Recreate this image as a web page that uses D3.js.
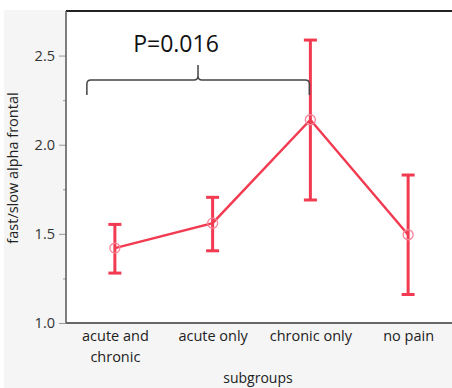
<!DOCTYPE html>
<html>
<head>
<meta charset="utf-8">
<script src="https://cdn.jsdelivr.net/npm/d3@7"></script>
<style>
  html, body { margin: 0; padding: 0; background: #ffffff; }
  svg { display: block; }
</style>
</head>
<body>
<svg id="chart" width="452" height="388"></svg>
<script>
// Subgroup means with error bar limits
const categories = ["acute and chronic", "acute only", "chronic only", "no pain"];
const categoryLines = [["acute and", "chronic"], ["acute only"], ["chronic only"], ["no pain"]];
const means = [1.42, 1.56, 2.14, 1.495];
const lower = [1.28, 1.405, 1.69, 1.16];
const upper = [1.553, 1.705, 2.587, 1.83];
const majorTicks = [1.0, 1.5, 2.0, 2.5];
const minorTicks = [1.25, 1.75, 2.25];
const pLabel = "P=0.016";

const W = 452, H = 388;
const plot = { left: 66, top: 11, right: 457, bottom: 323 };
const red = "#f23a50";
const font = "'Open Sans', 'Noto Sans', sans-serif";

const svg = d3.select("#chart");

// Grey frame behind the plot
svg.append("rect").attr("x", 4).attr("y", 10).attr("width", W - 4).attr("height", H - 10)
  .attr("fill", "#f5f5f5");
svg.append("rect").attr("x", plot.left).attr("y", plot.top)
  .attr("width", W - plot.left).attr("height", plot.bottom - plot.top).attr("fill", "#ffffff");

const y = d3.scaleLinear().domain([1.0, 2.75]).range([plot.bottom, plot.top]);
const x = d3.scalePoint().domain(categories).range([plot.left, plot.right]).padding(0.5);

// Y axis with major and minor ticks
const yAxis = svg.append("g").attr("transform", `translate(${plot.left},0)`)
  .call(d3.axisLeft(y).tickValues(majorTicks).tickFormat(d3.format(".1f")).tickSize(7).tickPadding(4));
yAxis.select(".domain").remove();
yAxis.selectAll(".tick line").attr("stroke", "#999");
yAxis.selectAll(".tick text").attr("font-family", font).attr("font-size", 14.5).attr("fill", "#333");
svg.append("g").attr("transform", `translate(${plot.left},0)`)
  .call(d3.axisLeft(y).tickValues(minorTicks).tickSize(3).tickFormat(""))
  .call(g => g.select(".domain").remove())
  .selectAll(".tick line").attr("stroke", "#999");

// X axis labels
const xAxis = svg.append("g").attr("transform", `translate(0,${plot.bottom})`)
  .call(d3.axisBottom(x).tickSize(0).tickFormat(""));
xAxis.select(".domain").remove();
xAxis.selectAll(".tick").each(function(d, i) {
  const t = d3.select(this).append("text")
    .attr("font-family", font).attr("font-size", 14.5).attr("fill", "#222")
    .attr("text-anchor", "middle");
  categoryLines[i].forEach((line, j) => {
    t.append("tspan").attr("x", 0).attr("y", 18 + j * 21).text(line);
  });
});

// Frame lines
svg.append("line").attr("x1", plot.left).attr("x2", W).attr("y1", plot.top).attr("y2", plot.top)
  .attr("stroke", "#222").attr("stroke-width", 2);
svg.append("line").attr("x1", plot.left).attr("x2", plot.left).attr("y1", plot.top).attr("y2", plot.bottom)
  .attr("stroke", "#555").attr("stroke-width", 1.5);
svg.append("line").attr("x1", plot.left).attr("x2", W).attr("y1", plot.bottom).attr("y2", plot.bottom)
  .attr("stroke", "#666").attr("stroke-width", 2);

// Axis titles
svg.append("text").attr("transform", `translate(18,${(plot.top + plot.bottom) / 2 + 1}) rotate(-90)`)
  .attr("text-anchor", "middle").attr("font-family", font).attr("font-size", 14.5).attr("fill", "#222")
  .text("fast/slow alpha frontal");
svg.append("text").attr("x", 258).attr("y", 383).attr("text-anchor", "middle")
  .attr("font-family", font).attr("font-size", 14).attr("fill", "#222").text("subgroups");

// Error bars
const capHalf = 6.5;
const bars = svg.append("g").attr("stroke", red).attr("stroke-width", 3).attr("fill", "none");
categories.forEach((c, i) => {
  const cx = x(c);
  bars.append("line").attr("x1", cx).attr("x2", cx).attr("y1", y(lower[i])).attr("y2", y(upper[i]));
  bars.append("line").attr("x1", cx - capHalf).attr("x2", cx + capHalf).attr("y1", y(lower[i])).attr("y2", y(lower[i]));
  bars.append("line").attr("x1", cx - capHalf).attr("x2", cx + capHalf).attr("y1", y(upper[i])).attr("y2", y(upper[i]));
});

// Mean line and markers
svg.append("path").datum(means)
  .attr("d", d3.line().x((d, i) => x(categories[i])).y(d => y(d)))
  .attr("fill", "none").attr("stroke", red).attr("stroke-width", 2.5);
svg.append("g").selectAll("circle").data(means).join("circle")
  .attr("cx", (d, i) => x(categories[i])).attr("cy", d => y(d)).attr("r", 5)
  .attr("fill", "none").attr("stroke", "#f7849a").attr("stroke-width", 1.3);

// Significance bracket spanning the first three groups
const bx0 = x(categories[0]) - 28, bx1 = x(categories[2]) - 1;
const bMid = 198, bTop = 65, bLine = 80, bEnd = 95, r = 4;
const bracket = d3.path();
bracket.moveTo(bx0, bEnd);
bracket.lineTo(bx0, bLine + r);
bracket.quadraticCurveTo(bx0, bLine, bx0 + r, bLine);
bracket.lineTo(bMid - r, bLine);
bracket.quadraticCurveTo(bMid, bLine, bMid, bLine - r);
bracket.lineTo(bMid, bTop);
bracket.moveTo(bMid, bLine - r);
bracket.quadraticCurveTo(bMid, bLine, bMid + r, bLine);
bracket.lineTo(bx1 - r, bLine);
bracket.quadraticCurveTo(bx1, bLine, bx1, bLine + r);
bracket.lineTo(bx1, bEnd);
svg.append("path").attr("d", bracket.toString())
  .attr("fill", "none").attr("stroke", "#444").attr("stroke-width", 1.5);

svg.append("text").attr("x", 176).attr("y", 52).attr("text-anchor", "middle")
  .attr("font-family", font).attr("font-size", 23).attr("fill", "#111").text(pLabel);
</script>
</body>
</html>
